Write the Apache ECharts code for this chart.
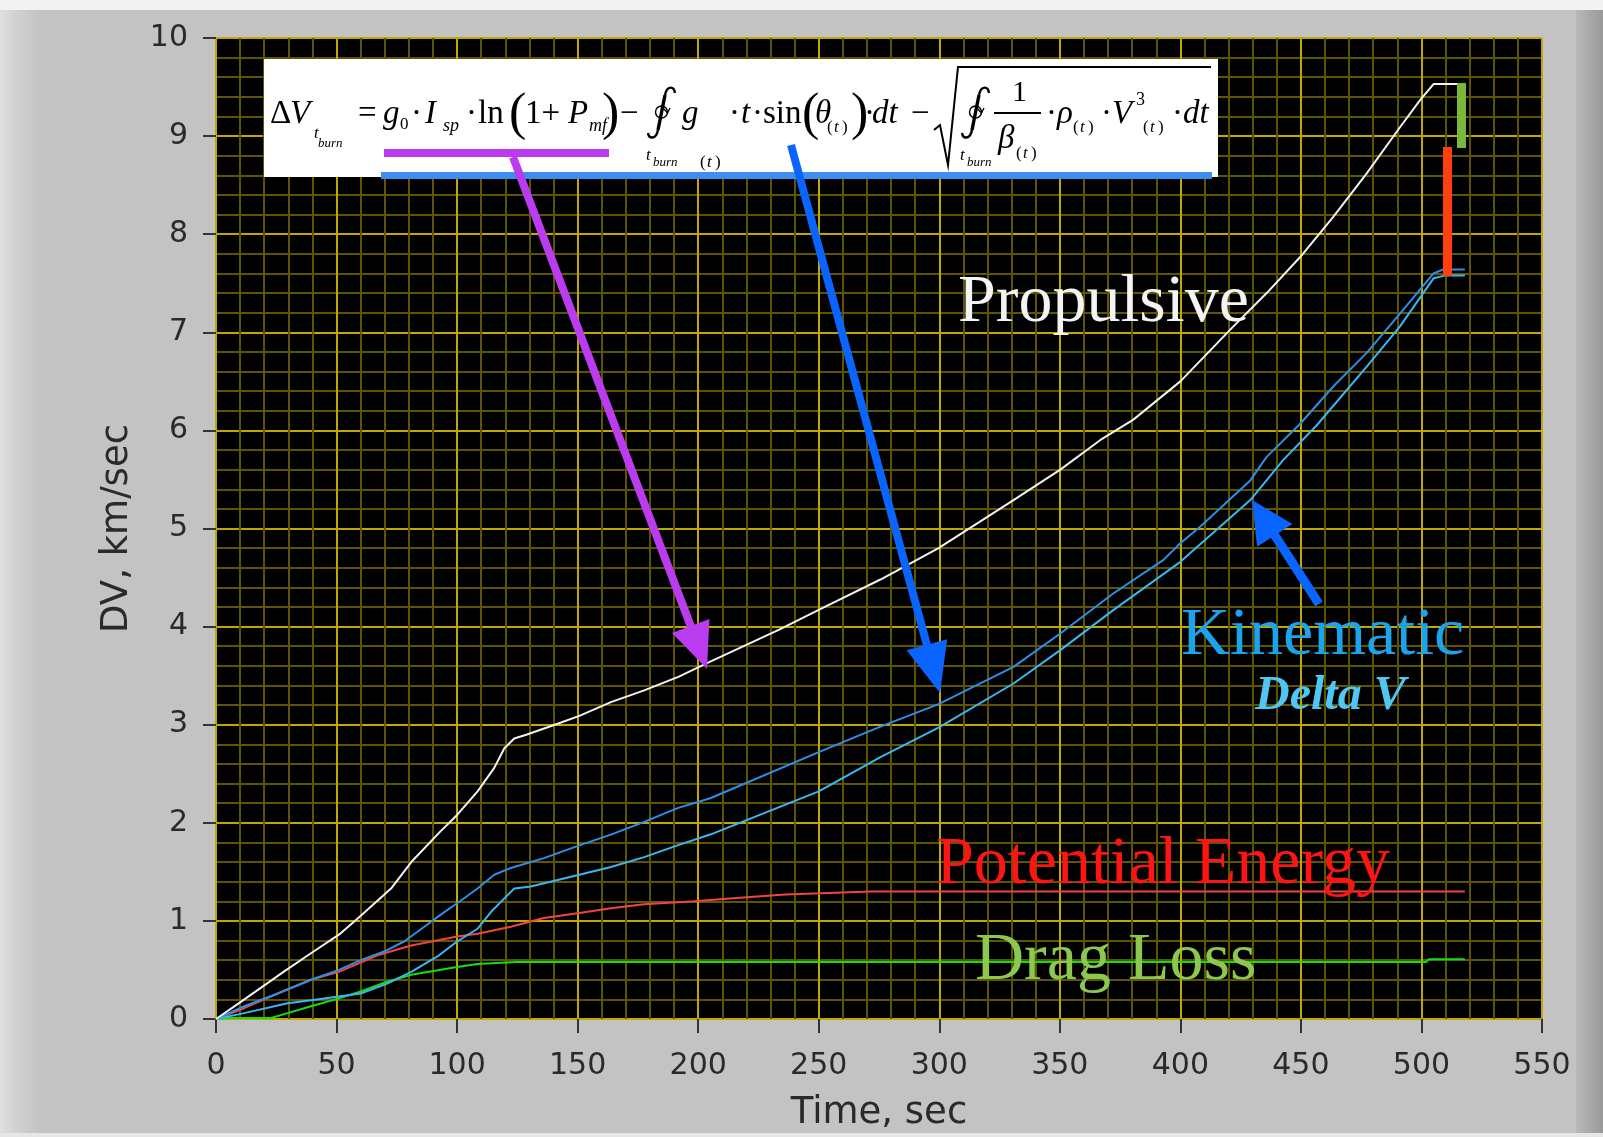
<!DOCTYPE html>
<html><head><meta charset="utf-8">
<script src="https://cdn.jsdelivr.net/npm/echarts@6/dist/echarts.min.js"></script>
<style>html,body{margin:0;padding:0;background:#c3c3c3}#c{width:1603px;height:1137px}</style>
</head><body><div id="c"></div>
<script>
// ---- data (time in sec, DV in km/sec) ----
const propulsive = [[0,0],[10,0.17],[28,0.48],[40,0.68],[51,0.86],[59,1.03],[72.6,1.33],[81,1.6],[93,1.91],[100,2.08],[108.5,2.32],[115.4,2.56],[119.6,2.76],[123.7,2.86],[129,2.9],[141.7,3.01],[150.7,3.09],[163.8,3.23],[177.6,3.35],[192,3.49],[203,3.62],[233.6,3.97],[250,4.17],[275.6,4.48],[299.7,4.8],[330.8,5.29],[350.2,5.6],[366.7,5.9],[380.5,6.11],[400,6.5],[422,7.06],[435.8,7.4],[449.8,7.77],[463.5,8.18],[477.3,8.62],[491.1,9.09],[499.5,9.37],[505,9.53],[515,9.53]];
const kinematicUpper = [[0,0],[11.7,0.13],[25.6,0.26],[39.4,0.4],[51,0.5],[60,0.6],[70,0.69],[78,0.79],[86.4,0.94],[94.7,1.09],[100,1.18],[108.5,1.33],[115.4,1.47],[122.3,1.54],[136,1.64],[150.7,1.77],[163.8,1.88],[177.6,2.01],[191.4,2.15],[205,2.25],[250,2.72],[275.6,2.98],[299.7,3.21],[330.8,3.59],[350.2,3.93],[372.3,4.34],[393,4.68],[400,4.85],[408.3,5.02],[429,5.49],[435.8,5.73],[449.8,6.07],[463.5,6.45],[477.3,6.79],[491.1,7.19],[505,7.6],[509,7.64],[518,7.64]];
const kinematicLower = [[0,0],[11.7,0.06],[29.7,0.16],[39.4,0.19],[51,0.23],[60,0.26],[71,0.36],[81,0.48],[92,0.64],[100,0.79],[108.5,0.92],[114,1.09],[119.6,1.23],[123.7,1.33],[130.6,1.35],[150.7,1.47],[163.8,1.55],[177.6,1.65],[191.4,1.77],[205,1.88],[250,2.32],[275.6,2.67],[299.7,2.97],[330.8,3.42],[350.2,3.76],[372.3,4.17],[400,4.66],[429,5.29],[442.7,5.7],[456.5,6.05],[477.3,6.65],[491.1,7.06],[505,7.55],[510,7.58],[518,7.58]];
const potentialEnergy = [[0,0],[11.7,0.11],[25.6,0.26],[39.4,0.4],[51,0.48],[67,0.65],[81,0.75],[100,0.84],[108.5,0.87],[122.3,0.94],[136,1.03],[150.7,1.08],[163.8,1.13],[177.6,1.17],[198.4,1.2],[214.4,1.23],[236,1.27],[271.8,1.3],[518,1.3]];
const dragLoss = [[0,0],[6,0.01],[22.8,0.01],[29.7,0.06],[39.4,0.13],[51,0.21],[60,0.28],[71,0.38],[81,0.45],[100,0.53],[108.5,0.56],[124.4,0.58],[125,0.59],[502,0.58],[503,0.61],[518,0.61]];
const xLimits = [0, 550, 50];
const yLimits = [0, 10, 1];
const annotations = ['Propulsive', 'Kinematic', 'Delta V', 'Potential Energy', 'Drag Loss'];

// ---- helpers for annotation graphics ----
const SERIF = '"Liberation Serif","Times New Roman",serif';
function txt(text, x, baseline, size, opts) {
  opts = opts || {};
  return {
    type: 'text', x: x, y: baseline - 0.24 * size, z: opts.z || 110, silent: true,
    style: {
      text: text, fill: opts.color || '#000',
      fontFamily: opts.family || SERIF, fontSize: size,
      fontStyle: opts.italic ? 'italic' : 'normal', fontWeight: opts.bold ? 'bold' : 'normal',
      align: 'left', textAlign: 'left', verticalAlign: 'middle', textVerticalAlign: 'middle'
    }
  };
}
function arrow(x1, y1, x2, y2, color, w, hl, hw) {
  const dx = x2 - x1, dy = y2 - y1, L = Math.hypot(dx, dy), ux = dx / L, uy = dy / L;
  const bx = x2 - ux * hl, by = y2 - uy * hl, px = -uy, py = ux;
  return [
    { type: 'line', z: 120, silent: true, shape: { x1: x1, y1: y1, x2: bx + ux * 3, y2: by + uy * 3 }, style: { stroke: color, lineWidth: w } },
    { type: 'polygon', z: 121, silent: true, shape: { points: [[x2, y2], [bx + px * hw, by + py * hw], [bx - px * hw, by - py * hw]] }, style: { fill: color } }
  ];
}
function contourIntegral(x0) {
  const st = { stroke: '#000', lineWidth: 2.4, fill: null };
  return [
    { type: 'bezierCurve', z: 112, silent: true, shape: { x1: x0 + 28, y1: 93, cpx1: x0 + 27, cpy1: 86, cpx2: x0 + 20, cpy2: 85, x2: x0 + 18, y2: 95 }, style: st },
    { type: 'line', z: 112, silent: true, shape: { x1: x0 + 18, y1: 95, x2: x0 + 11, y2: 130 }, style: { stroke: '#000', lineWidth: 3.4 } },
    { type: 'bezierCurve', z: 112, silent: true, shape: { x1: x0 + 11, y1: 130, cpx1: x0 + 9, cpy1: 140, cpx2: x0 + 2, cpy2: 139, x2: x0 + 1, y2: 133 }, style: st },
    { type: 'circle', z: 112, silent: true, shape: { cx: x0 + 14.5, cy: 112, r: 6 }, style: { stroke: '#000', lineWidth: 1.4, fill: null } },
    { type: 'polyline', z: 112, silent: true, shape: { points: [[x0 + 17, 109], [x0 + 20.5, 113], [x0 + 23, 108]] }, style: { stroke: '#000', lineWidth: 1.3, fill: null } }
  ];
}

const S = 33, s1 = 18, s2 = 13, BIG = 52;
const formula = [
  txt('Δ', 270, 122, S), txt('V', 290, 122, S, { italic: true }),
  txt('t', 314, 138, 17, { italic: true }), txt('burn', 318, 147, s2, { italic: true }),
  txt('=', 358, 122, S), txt('g', 383, 122, S, { italic: true }), txt('0', 400, 129, 17),
  txt('·', 411, 122, S), txt('I', 425, 122, S, { italic: true }), txt('sp', 443, 131, s1, { italic: true }),
  txt('·', 466, 122, S), txt('ln', 478, 122, S),
  txt('(', 509, 128, BIG), txt('1+', 525, 122, S), txt('P', 568, 122, S, { italic: true }),
  txt('mf', 589, 131, s1, { italic: true }), txt(')', 602, 128, BIG),
  txt('−', 620, 122, S),
  ...contourIntegral(647),
  txt('g', 682, 122, S, { italic: true }),
  txt('t', 646, 160, 17, { italic: true }), txt('burn', 653, 166, s2, { italic: true }),
  txt('(', 700, 167, 17), txt('t', 707, 167, 17, { italic: true }), txt(')', 715, 167, 17),
  txt('·', 729, 122, S), txt('t', 741, 122, S, { italic: true }), txt('·', 752, 122, S),
  txt('sin', 763, 122, S), txt('(', 802, 128, BIG), txt('θ', 815, 122, S, { italic: true }),
  txt('(', 827, 132, 17), txt('t', 834, 132, 17, { italic: true }), txt(')', 842, 132, 17),
  txt(')', 851, 128, BIG), txt('·', 864, 122, S), txt('dt', 872, 122, S, { italic: true }),
  txt('−', 911, 122, S),
  ...contourIntegral(961),
  txt('t', 960, 160, 17, { italic: true }), txt('burn', 967, 166, s2, { italic: true }),
  txt('1', 1012, 100, 30), txt('β', 998, 147, S, { italic: true }),
  txt('(', 1016, 158, 17), txt('t', 1023, 158, 17, { italic: true }), txt(')', 1031, 158, 17),
  txt('·', 1046, 122, S), txt('ρ', 1057, 122, S, { italic: true }),
  txt('(', 1073, 132, 17), txt('t', 1080, 132, 17, { italic: true }), txt(')', 1088, 132, 17),
  txt('·', 1101, 122, S), txt('V', 1112, 122, S, { italic: true }), txt('3', 1136, 105, s1),
  txt('(', 1143, 132, 17), txt('t', 1150, 132, 17, { italic: true }), txt(')', 1158, 132, 17),
  txt('·', 1172, 122, S), txt('dt', 1183, 122, S, { italic: true }),
  { type: 'line', z: 112, silent: true, shape: { x1: 994, y1: 113, x2: 1041, y2: 113 }, style: { stroke: '#000', lineWidth: 2 } },
  { type: 'polyline', z: 112, silent: true, shape: { points: [[934, 130], [940, 125], [948, 165], [958, 67], [1211, 67]] }, style: { stroke: '#000', lineWidth: 2, fill: null } }
];

const frame = [
  { type: 'rect', z: -6, silent: true, shape: { x: 0, y: 0, width: 42, height: 1137 },
    style: { fill: new echarts.graphic.LinearGradient(0, 0, 1, 0, [{ offset: 0, color: '#e0e0e0' }, { offset: 0.35, color: '#d2d2d2' }, { offset: 1, color: '#c3c3c3' }]) } },
  { type: 'rect', z: -6, silent: true, shape: { x: 1576, y: 0, width: 27, height: 1137 },
    style: { fill: new echarts.graphic.LinearGradient(0, 0, 1, 0, [{ offset: 0, color: '#b8b8b8' }, { offset: 1, color: '#9a9a9a' }]) } },
  { type: 'rect', z: -5, silent: true, shape: { x: 0, y: 0, width: 1603, height: 10 }, style: { fill: '#f3f3f3' } },
  { type: 'rect', z: -5, silent: true, shape: { x: 0, y: 1133, width: 1603, height: 4 }, style: { fill: '#e6e6e6' } }
];

const overlay = [
  { type: 'rect', z: 100, silent: true, shape: { x: 264, y: 59, width: 954, height: 118 }, style: { fill: '#ffffff' } },
  { type: 'rect', z: 105, silent: true, shape: { x: 384, y: 149, width: 225, height: 8 }, style: { fill: '#bb3cf0' } },
  { type: 'rect', z: 105, silent: true, shape: { x: 381, y: 172, width: 831, height: 7 }, style: { fill: '#3d8ef2' } },
  ...arrow(513, 157, 707, 669, '#bb3cf0', 8, 46, 20),
  ...arrow(791, 145, 940, 693, '#0a64ff', 8, 50, 21),
  ...arrow(1319, 604, 1252, 500, '#0a64ff', 9, 42, 21),
  { type: 'rect', z: 105, silent: true, shape: { x: 1443, y: 147, width: 9, height: 129 }, style: { fill: '#ff3f10' } },
  { type: 'rect', z: 105, silent: true, shape: { x: 1457, y: 83, width: 9, height: 65 }, style: { fill: '#7ab83c' } },
  txt(annotations[0], 958, 319, 68, { color: '#f4f4f4' }),
  txt(annotations[1], 1181, 652, 68, { color: '#1aa4ec' }),
  txt(annotations[2], 1255, 708, 48, { color: '#4ec8f2', italic: true, bold: true }),
  txt(annotations[3], 936, 881, 68, { color: '#ff1414' }),
  txt(annotations[4], 975, 977, 68, { color: '#8cc850' })
];

const chart = echarts.init(document.getElementById('c'), null, { renderer: 'canvas' });
const LBL = { fontFamily: 'DejaVu Sans', fontSize: 30, color: '#2a2a2a' };
const NAME = { fontFamily: 'DejaVu Sans', fontSize: 37, color: '#2a2a2a' };
function line(data, color) {
  return { type: 'line', data: data, showSymbol: false, symbol: 'none', z: 5,
    lineStyle: { color: color, width: 2 }, itemStyle: { color: color } };
}
chart.setOption({
  animation: false,
  backgroundColor: '#c3c3c3',
  grid: { left: 216, right: 61, top: 38, bottom: 118, show: true, backgroundColor: '#000', borderColor: '#8c8c8c', borderWidth: 1 },
  xAxis: {
    type: 'value', min: xLimits[0], max: xLimits[1], interval: xLimits[2], offset: 8,
    name: 'Time, sec', nameLocation: 'middle', nameGap: 68, nameTextStyle: NAME,
    axisLine: { show: false },
    axisTick: { show: true, length: 14, lineStyle: { color: '#333', width: 2 } },
    axisLabel: Object.assign({ margin: 24 }, LBL),
    splitLine: { show: true, lineStyle: { color: '#bfa900', width: 2 } },
    minorTick: { show: false, splitNumber: 5 },
    minorSplitLine: { show: true, lineStyle: { color: '#5f5500', width: 2 } }
  },
  yAxis: {
    type: 'value', min: yLimits[0], max: yLimits[1], interval: yLimits[2], offset: 8,
    name: 'DV, km/sec', nameLocation: 'middle', nameGap: 72, nameTextStyle: NAME,
    axisLine: { show: false },
    axisTick: { show: true, length: 13, lineStyle: { color: '#333', width: 2 } },
    axisLabel: Object.assign({ margin: 20 }, LBL),
    splitLine: { show: true, lineStyle: { color: '#bfa900', width: 2 } },
    minorTick: { show: false, splitNumber: 5 },
    minorSplitLine: { show: true, lineStyle: { color: '#5f5500', width: 2 } }
  },
  series: [
    line(dragLoss, '#10e010'),
    line(potentialEnergy, '#f04444'),
    line(kinematicLower, '#3cb6f2'),
    line(kinematicUpper, '#2e8ee8'),
    line(propulsive, '#f2f2f2')
  ],
  graphic: { elements: frame.concat(overlay, formula) }
});
</script></body></html>
